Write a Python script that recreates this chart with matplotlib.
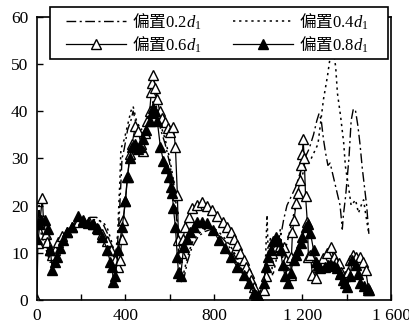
import matplotlib
matplotlib.use('Agg')
import matplotlib.pyplot as plt
from matplotlib.patches import Rectangle

plt.rcParams['font.family'] = ['Liberation Serif', 'Noto Sans CJK SC', 'DejaVu Sans']
# legend labels mix CJK, upright serif digits and an italic d: all done in mathtext
plt.rcParams['mathtext.fontset'] = 'custom'
plt.rcParams['mathtext.rm'] = 'Noto Sans CJK SC'
plt.rcParams['mathtext.bf'] = 'Liberation Serif'
plt.rcParams['mathtext.it'] = 'Liberation Serif:italic'

labels = [r'$\mathrm{偏置}\mathbf{0.2}d_{\mathbf{1}}$', r'$\mathrm{偏置}\mathbf{0.4}d_{\mathbf{1}}$',
          r'$\mathrm{偏置}\mathbf{0.6}d_{\mathbf{1}}$', r'$\mathrm{偏置}\mathbf{0.8}d_{\mathbf{1}}$']

# offset 0.2 d1 (dash-dot)
x2 = [0, 10, 20, 40, 60, 80, 100, 130, 160, 200, 240, 270, 300, 320, 340, 355, 365, 375, 385,
      395, 410, 425, 435, 450, 470, 490, 510, 525, 540, 560, 580, 600, 615, 630, 640, 650, 660,
      680, 700, 730, 760, 790, 820, 850, 880, 910, 940, 960, 980, 990, 1010, 1030, 1045, 1060,
      1080, 1100, 1115, 1130, 1150, 1170, 1190, 1210, 1230, 1250, 1265, 1275, 1285, 1295, 1305,
      1315, 1325, 1340, 1355, 1370, 1380, 1385, 1395, 1410, 1420, 1430, 1440, 1450, 1460, 1470,
      1480, 1490, 1500]
y2 = [13, 20, 15, 12, 9, 8, 10, 13, 15, 16.5, 17.5, 17.5, 16, 14, 10, 8, 12, 20, 30,
      32, 36, 38, 40, 37, 35, 36, 39, 41, 40, 36, 33, 29, 25, 18, 10, 4, 3.5,
      8, 11, 13.5, 14.5, 15, 14, 12.5, 10.5, 8, 5, 3, 1, 0, 1, 3, 7, 10,
      12, 13, 17, 20, 22, 24, 27, 30, 32, 35, 38, 39.5, 38, 34, 31,
      28.5, 29, 26, 23, 20, 15, 18, 22, 30, 38, 40.5, 40, 37, 33, 28,
      24, 20, 14]

# offset 0.4 d1 (dotted)
x4 = [0, 10, 20, 40, 60, 80, 100, 130, 160, 200, 240, 270, 300, 320, 340, 355, 365, 375, 380,
      395, 410, 425, 435, 450, 470, 490, 510, 525, 540, 560, 580, 600, 615, 630, 640, 650, 660,
      680, 700, 730, 760, 790, 820, 850, 880, 910, 940, 960, 980, 995, 1010, 1030, 1040, 1045,
      1055, 1065, 1080, 1100, 1110, 1130, 1150, 1170, 1190, 1210, 1240, 1270, 1295, 1313, 1326,
      1336, 1350, 1358, 1372, 1386, 1394, 1408, 1420, 1440, 1453, 1465, 1476, 1485, 1493, 1500]
y4 = [14, 18, 14, 11, 8, 8, 11, 14, 15.5, 16, 17, 17, 16.5, 15, 12, 9, 14, 25, 32,
      34, 37, 40, 41, 38, 36, 37, 40, 42, 41, 37, 34, 30, 26, 20, 12, 6, 5,
      9, 12, 14, 15, 15.5, 14.5, 13, 11, 8.5, 5.5, 3.5, 1.5, 0, 2, 4, 18, 10,
      13, 5, 8, 15, 9, 12, 16, 20, 25, 28, 30, 33, 42.5, 47.4, 51.7,
      54, 49.4, 43.8, 39, 33.4, 28.3, 24, 20, 21.2, 18.4, 20, 21.2, 18.4, 16, 14]

# offset 0.6 d1 (open triangles)
x6 = [0, 5, 15, 25, 30, 40, 47, 58, 70, 84, 97, 115, 138, 160, 185, 210, 235, 255, 275, 295,
      315, 335, 355, 365, 377, 383, 391, 400, 410, 420, 430, 445, 459, 470, 480, 490, 500, 510,
      517, 522, 527, 535, 544, 555, 567, 581, 592, 603, 617, 626, 635, 640, 650, 660, 671, 686,
      703, 725, 748, 770, 793, 816, 839, 857, 875, 890, 906, 920, 934, 946, 957, 968, 980, 992,
      1005, 1025, 1036, 1047, 1063, 1079, 1097, 1115, 1124, 1135, 1146, 1150, 1155, 1162, 1172,
      1180, 1188, 1195, 1200, 1203, 1208, 1214, 1222, 1227, 1236, 1245, 1259, 1275, 1295, 1310,
      1327, 1341, 1352, 1363, 1375, 1390, 1405, 1417, 1428, 1440, 1452, 1462, 1475, 1485, 1498]
y6 = [0, 12, 17, 21.6, 17, 14, 12.3, 10.5, 9.5, 10.5, 12.3, 13.5, 14.4, 15.5, 16.5, 16.8, 16.5,
      16, 15, 14, 12.5, 10.5, 8.5, 7, 8.5, 13, 17, 21, 26, 31, 33, 36.8, 35.7, 33, 31.5, 35.4, 38,
      40, 44, 46, 47.7, 45, 42.5, 40, 38.5, 37.6, 36.5, 35.5, 36.6, 32.5, 22.3, 12.7, 10, 13, 15.5,
      17.5, 19.5, 20.2, 20.8, 20, 19, 17.8, 16.5, 15.5, 14.4, 13, 11.6, 10, 8.5, 7, 5.7, 4.2, 2.8,
      1, 0.5, 2, 5, 8.5, 10, 11.2, 11.5, 11.2, 8.5, 6, 5.3, 9, 14.4, 17, 20.6, 22.7, 25.4, 28.6,
      31, 34, 30, 22, 16.5, 9.1, 9.5, 5.3, 4.7, 7, 8.9, 10, 11.2, 9.1, 8, 7.8, 6, 5, 6, 8.5, 9.5,
      9.1, 8, 9.1, 8, 6.4, 2.5]

# offset 0.8 d1 (filled triangles)
x8 = [0, 10, 20, 38, 52, 61, 70, 80, 93, 105, 120, 138, 160, 188, 210, 233, 255, 273, 296, 318,
      332, 341, 345, 355, 368, 386, 400, 409, 420, 431, 445, 455, 468, 480, 495, 510, 522, 527,
      535, 544, 558, 572, 585, 595, 605, 612, 617, 626, 635, 640, 650, 663, 678, 694, 710, 724,
      745, 770, 798, 821, 852, 875, 906, 934, 957, 980, 987, 1000, 1025, 1034, 1045, 1056, 1068,
      1079, 1090, 1101, 1110, 1122, 1133, 1146, 1160, 1170, 1182, 1192, 1200, 1214, 1225, 1236,
      1250, 1262, 1272, 1281, 1300, 1314, 1327, 1342, 1358, 1370, 1381, 1392, 1403, 1414, 1426,
      1440, 1450, 1462, 1478, 1494, 1500]
y8 = [13, 16, 17, 17, 15, 10.6, 6.4, 8, 9.1, 11, 12.8, 14.3, 15.5, 17.7, 17, 16.4, 16, 15.3,
      13.4, 10.6, 8, 7, 3.8, 5, 10.6, 15.5, 21, 26, 30, 32.5, 33, 32, 32.5, 34, 36, 38, 39.6,
      40.6, 40, 38, 32.5, 29.4, 28, 26, 24, 22.7, 19.5, 15.5, 9, 5.7, 5, 11.2, 13, 14.4, 15.5,
      16.5, 16.5, 16.3, 14.8, 12.7, 11, 9.1, 7, 5.3, 3.6, 1.5, 0, 0.8, 3.6, 7, 9, 10.6, 12.5,
      13.4, 12.5, 10.6, 7.4, 5, 3.6, 5.7, 8.5, 9.5, 10.6, 12, 13.4, 15.5, 16, 14.2, 10.6, 8,
      7.4, 6.8, 7, 7.5, 7.4, 7.2, 6.8, 5.5, 4.2, 3.5, 2.8, 5, 8.5, 7.4, 5.5, 3.6, 3, 2.1, 2]

fig = plt.figure(figsize=(4.09, 3.34), dpi=100)
ax = fig.add_axes([0.09, 0.102, 0.866, 0.848])

l2, = ax.plot(x2, y2, color='black', lw=1.0, linestyle=(0, (7, 2.5, 1.5, 2.5)))
l4, = ax.plot(x4, y4, color='black', lw=1.1, linestyle=(0, (1.5, 2.5)))
l6, = ax.plot(x6, y6, color='black', lw=0.9, marker='^', ms=6.5,
              markerfacecolor='white', markeredgecolor='black', markeredgewidth=1.0)
l8, = ax.plot(x8, y8, color='black', lw=0.9, marker='^', ms=6.5,
              markerfacecolor='black', markeredgecolor='black')

ax.set_xlim(0, 1600)
ax.set_ylim(0, 60)
ax.set_xticks([0, 200, 400, 600, 800, 1000, 1200, 1400, 1600])
ax.set_xticklabels(['0', '', '400', '', '800', '', '1 200', '', '1 600'])
ax.set_yticks([0, 10, 20, 30, 40, 50, 60])
ax.tick_params(direction='in', length=4, width=1, labelsize=12.5)
ax.tick_params(axis='x', pad=6)
ax.tick_params(axis='y', pad=6)
for s in ax.spines.values():
    s.set_linewidth(1.2)

# legend box is wider than the entries: draw the frame on its own
box = Rectangle((0.037, 0.849), 0.955, 0.185, transform=ax.transAxes, facecolor='white',
                edgecolor='black', lw=1.2, zorder=4.5, clip_on=False)
ax.add_patch(box)
leg = ax.legend([l2, l6, l4, l8], [labels[0], labels[2], labels[1], labels[3]],
                ncol=2, loc='upper left', bbox_to_anchor=(0.07, 0.849, 0.88, 0.185),
                mode='expand', fontsize=12, frameon=False,
                handlelength=3.6, handletextpad=0.4, borderpad=0.25, labelspacing=0.15,
                columnspacing=1.0, borderaxespad=0)

fig.savefig('out.png', dpi=100)
